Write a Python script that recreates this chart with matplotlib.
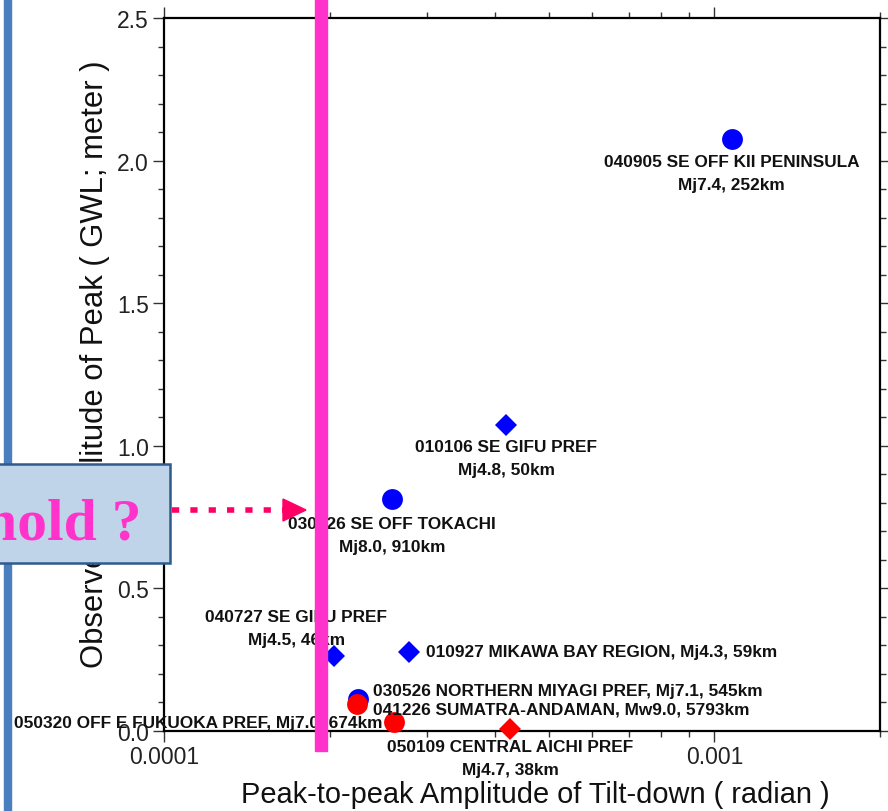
import numpy as np
import matplotlib
matplotlib.use('Agg')
from matplotlib import pyplot as plt
from matplotlib import ticker
from matplotlib.patches import Rectangle, Polygon
from matplotlib.lines import Line2D

# tilt amplitude (radian) and observed GWL peak (meter)
blue_circle_x = [1.075e-3, 2.60e-4, 2.25e-4]
blue_circle_y = [2.076, 0.813, 0.112]
blue_diamond_x = [4.19e-4, 2.04e-4, 2.79e-4]
blue_diamond_y = [1.073, 0.263, 0.277]
red_circle_x = [2.24e-4, 2.62e-4]
red_circle_y = [0.095, 0.030]
red_diamond_x = [4.26e-4]
red_diamond_y = [0.007]

# annotation text, anchor point (x, y), offset in px, alignment
labels = [
    ('040905 SE OFF KII PENINSULA\nMj7.4, 252km', 1.075e-3, 2.076, (0, -15), 'center', 'top'),
    ('010106 SE GIFU PREF\nMj4.8, 50km', 4.19e-4, 1.073, (0, -14), 'center', 'top'),
    ('030926 SE OFF TOKACHI\nMj8.0, 910km', 2.60e-4, 0.813, (0, -17), 'center', 'top'),
    ('040727 SE GIFU PREF\nMj4.5, 46km', 2.04e-4, 0.263, (-38, 9), 'center', 'bottom'),
    ('010927 MIKAWA BAY REGION, Mj4.3, 59km', 2.79e-4, 0.277, (17, 0), 'left', 'center'),
    ('030526 NORTHERN MIYAGI PREF, Mj7.1, 545km', 2.25e-4, 0.112, (15, 9), 'left', 'center'),
    ('041226 SUMATRA-ANDAMAN, Mw9.0, 5793km', 2.24e-4, 0.095, (16, -5), 'left', 'center'),
    ('050320 OFF E FUKUOKA PREF, Mj7.0, 674km', 2.62e-4, 0.030, (-12, 0), 'right', 'center'),
    ('050109 CENTRAL AICHI PREF\nMj4.7, 38km', 4.26e-4, 0.007, (0, -10), 'center', 'top'),
]

plt.rcParams['font.family'] = ['Liberation Sans', 'DejaVu Sans']

fig = plt.figure(figsize=(8.88, 8.12), dpi=100)
fig.patch.set_facecolor('white')
ax = fig.add_axes([164/888, 1 - 732/812, (880-164)/888, (732-19)/812])

ax.plot(blue_circle_x, blue_circle_y, 'o', color='#0000ff', ms=15, mew=0, clip_on=False, zorder=3)
ax.plot(blue_diamond_x, blue_diamond_y, 'D', color='#0000ff', ms=11.5, mew=0, clip_on=False, zorder=3)
ax.plot(red_circle_x, red_circle_y, 'o', color='#ff0000', ms=15, mew=0, clip_on=False, zorder=4)
ax.plot(red_diamond_x, red_diamond_y, 'D', color='#ff0000', ms=11.5, mew=0, clip_on=False, zorder=4)

for txt, x, y, off, ha, va in labels:
    ax.annotate(txt, (x, y), xytext=(off[0]*0.72, off[1]*0.72), textcoords='offset points',
                ha=ha, va=va, fontsize=12.4, fontweight='bold', color='#111111',
                multialignment='center', linespacing=1.65, annotation_clip=False, zorder=5)

ax.set_xscale('log')
ax.set_xlim(1e-4, 2e-3)
ax.set_ylim(0, 2.5)
ax.xaxis.set_major_locator(ticker.FixedLocator([1e-4, 1e-3]))
ax.xaxis.set_major_formatter(ticker.FixedFormatter(['0.0001', '0.001']))
ax.xaxis.set_minor_locator(ticker.LogLocator(base=10, subs=np.arange(2, 10)))
ax.xaxis.set_minor_formatter(ticker.NullFormatter())
ax.yaxis.set_major_locator(ticker.MultipleLocator(0.5))
ax.yaxis.set_minor_locator(ticker.MultipleLocator(0.1))
ax.yaxis.set_major_formatter(ticker.FormatStrFormatter('%.1f'))

ax.tick_params(which='both', direction='out', top=True, right=True, width=1, color='#333333')
ax.tick_params(which='major', length=8, labelsize=16.5, pad=3, labelcolor='#222222')
ax.tick_params(which='minor', length=4.5)
ax.tick_params(axis='x', which='major', pad=2)
for s in ax.spines.values():
    s.set_linewidth(1.6)

ax.set_xlabel('Peak-to-peak Amplitude of Tilt-down ( radian )', fontsize=20.9, color='#111111', va='center')
ax.xaxis.set_label_coords(0.518, -0.088)
ax.set_ylabel('Observed Amplitude of Peak ( GWL; meter )', fontsize=22.3, color='#111111', va='center')
ax.yaxis.set_label_coords(-0.096, 0.516)

# slide decorations drawn over the chart
fig.add_artist(Rectangle((4/888, 0), 7/888, 1, transform=fig.transFigure, color='#4a7fbf', zorder=10))
fig.add_artist(Rectangle((315/888, 1 - 752/812), 12/888, 752/812, transform=fig.transFigure,
                         color='#ff33cc', zorder=10))
fig.add_artist(Rectangle((-5/888, 1 - 564/812), 175/888, 99/812, transform=fig.transFigure,
                         facecolor='#bfd4e9', edgecolor='#2f5b8c', linewidth=1.8, zorder=11))
fig.text(141/888, 1 - 540/812, 'Threshold ?', ha='right', va='baseline', fontsize=43,
         fontweight='bold', family='Liberation Serif', color='#ff33cc', zorder=12)
fig.add_artist(Line2D([172/888, 284/888], [1 - 511/812, 1 - 511/812], transform=fig.transFigure,
                      color='#ff0066', linewidth=4, linestyle=(0, (1.3, 2.0)),
                      dash_capstyle='butt', zorder=12))
fig.add_artist(Polygon([(283/888, 1 - 500/812), (306/888, 1 - 511/812), (283/888, 1 - 522/812)],
                       closed=True, transform=fig.transFigure, color='#ff0066', zorder=12))

fig.savefig('out.png', dpi=100)
